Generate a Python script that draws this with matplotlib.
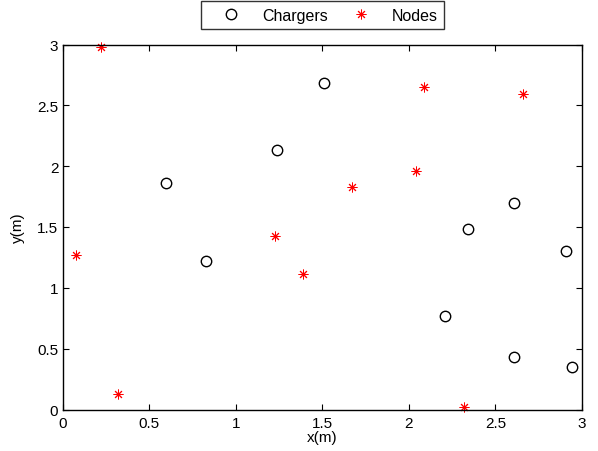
import matplotlib
matplotlib.use("Agg")
import matplotlib.pyplot as plt

plt.rcParams['font.family'] = ['Liberation Sans', 'DejaVu Sans']

# charger positions (m)
chargers_x = [0.60, 0.83, 1.24, 1.51, 2.21, 2.34, 2.61, 2.61, 2.91, 2.94]
chargers_y = [1.86, 1.22, 2.13, 2.68, 0.77, 1.48, 1.70, 0.43, 1.30, 0.35]

# sensor node positions (m)
nodes_x = [0.08, 0.22, 0.32, 1.23, 1.39, 1.67, 2.04, 2.09, 2.32, 2.66]
nodes_y = [1.27, 2.98, 0.13, 1.43, 1.11, 1.83, 1.96, 2.65, 0.02, 2.59]

ticks_x = [0, 0.5, 1, 1.5, 2, 2.5, 3]
ticks_y = [0, 0.5, 1, 1.5, 2, 2.5, 3]

fig = plt.figure(figsize=(5.98, 4.52), dpi=100)
ax = fig.add_axes([62.5 / 598, 1 - 410.5 / 452, (582 - 62.5) / 598, (410.5 - 45.5) / 452])

ax.plot(chargers_x, chargers_y, 'o', mfc='none', mec='black', ms=7.5, mew=1.0,
        label='Chargers', clip_on=False)
# 8-spoke asterisk, outline only
ax.plot(nodes_x, nodes_y, ls='none', marker=(8, 2, 0), color='red', ms=7,
        mew=0.7, label='Nodes', clip_on=False)

ax.set_xlim(0, 3)
ax.set_ylim(0, 3)
ax.set_xticks(ticks_x)
ax.set_yticks(ticks_y)
ax.set_xticklabels(['0', '0.5', '1', '1.5', '2', '2.5', '3'])
ax.set_yticklabels(['0', '0.5', '1', '1.5', '2', '2.5', '3'])
ax.tick_params(direction='in', top=True, right=True, length=4, width=0.8,
               labelsize=11, pad=3)
ax.tick_params(axis='x', pad=4.5)
for sp in ax.spines.values():
    sp.set_linewidth(1.0)

ax.set_xlabel('x(m)', fontsize=11, labelpad=0)
ax.set_ylabel('y(m)', fontsize=11, labelpad=9)

leg = ax.legend(loc='lower center', bbox_to_anchor=(0.5005, 1.0425), ncol=2,
                frameon=True, fancybox=False, edgecolor='black', fontsize=11.5,
                handlelength=3.0, columnspacing=0.6, borderpad=0.4,
                handletextpad=0.4, borderaxespad=0)
leg.get_frame().set_linewidth(1.0)

fig.savefig('out.png', dpi=100)
